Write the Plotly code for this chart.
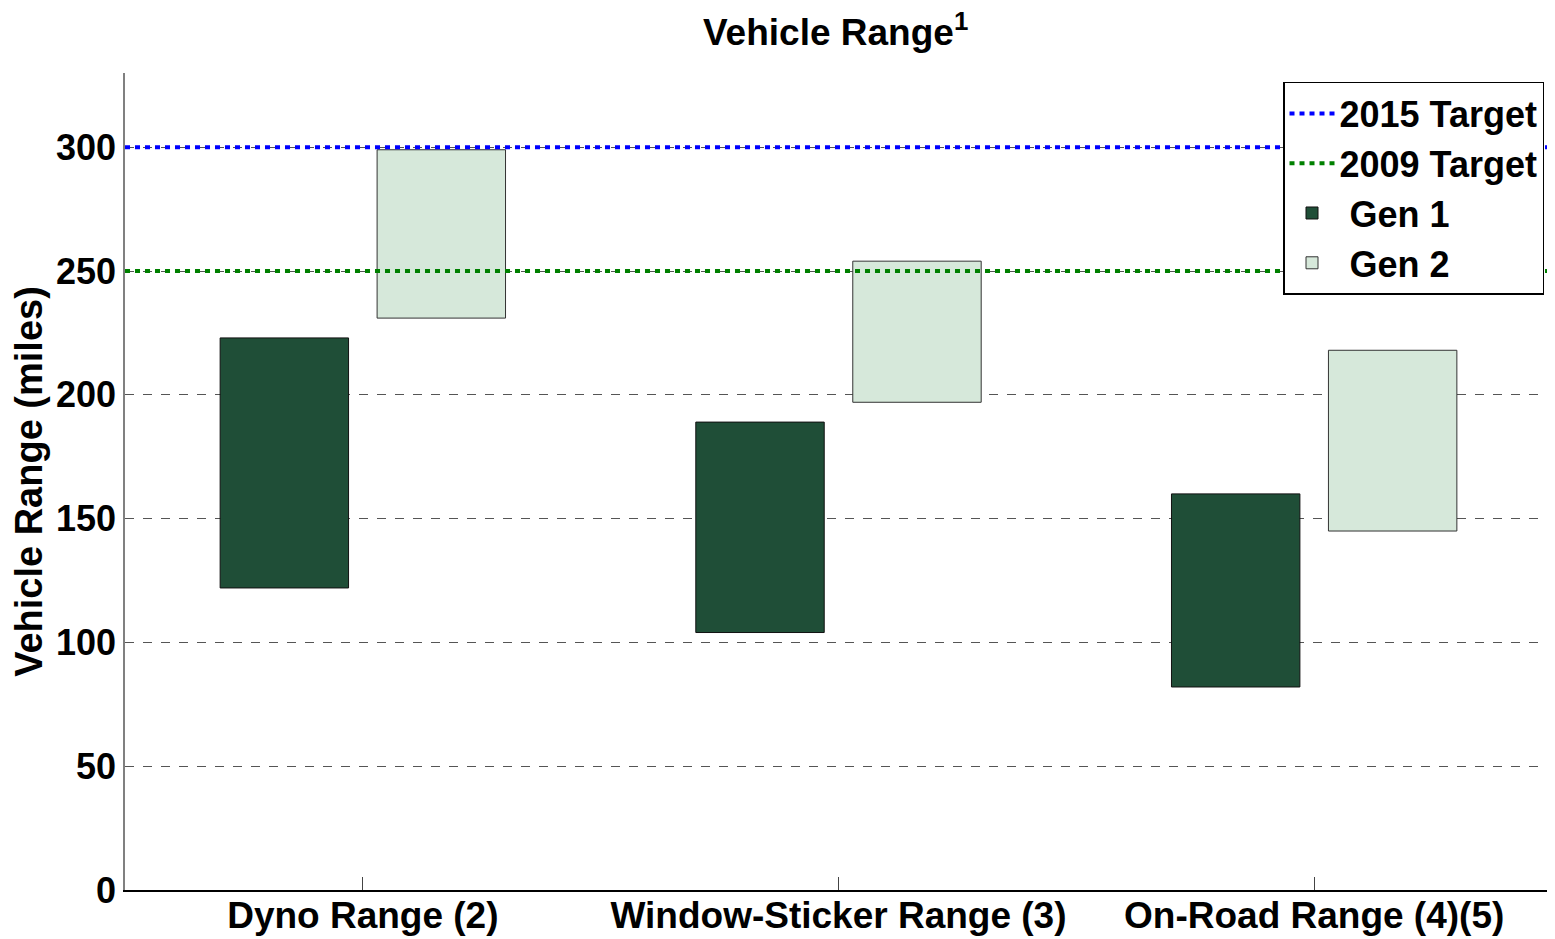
import plotly.graph_objects as go

categories = ["Dyno Range (2)", "Window-Sticker Range (3)", "On-Road Range (4)(5)"]
gen1_low = [122, 104, 82]
gen1_high = [223, 189, 160]
gen2_low = [231, 197, 145]
gen2_high = [299, 254, 218]
target_2015 = 300
target_2009 = 250

xpos = list(range(len(categories)))
font = "Liberation Sans, Arial, sans-serif"

fig = go.Figure()

fig.add_trace(go.Scatter(
    x=[-0.5, 2.5], y=[target_2015, target_2015], mode="lines", name="<b>2015 Target</b>",
    line=dict(color="#0000ff", width=4, dash="5px,5px")))
fig.add_trace(go.Scatter(
    x=[-0.5, 2.5], y=[target_2009, target_2009], mode="lines", name="<b>2009 Target</b>",
    line=dict(color="#008000", width=4, dash="5px,5px")))

fig.add_trace(go.Bar(
    x=xpos, y=[h - l for l, h in zip(gen1_low, gen1_high)], base=gen1_low,
    name="<b> Gen 1</b>", width=0.27, offset=-0.3,
    marker=dict(color="#1f4e37", line=dict(color="#111111", width=1))))
fig.add_trace(go.Bar(
    x=xpos, y=[h - l for l, h in zip(gen2_low, gen2_high)], base=gen2_low,
    name="<b> Gen 2</b>", width=0.27, offset=0.03,
    marker=dict(color="#d6e8da", line=dict(color="#333333", width=1))))

fig.update_layout(
    width=1547, height=931,
    paper_bgcolor="white", plot_bgcolor="white",
    margin=dict(l=117, r=3, t=65, b=49),
    barmode="overlay",
    title=dict(text="<b>Vehicle Range<sup>1</sup></b>", x=0.535, xanchor="center",
               y=0.974, yanchor="middle",
               font=dict(family=font, size=37, color="black")),
    font=dict(family=font, color="black"),
    legend=dict(x=0.9944, y=0.989, xanchor="right", yanchor="top",
                bordercolor="black", borderwidth=1.5, bgcolor="white",
                font=dict(family=font, size=36, color="black"),
                itemwidth=45, tracegroupgap=0),
    showlegend=True,
)

fig.update_xaxes(
    range=[-0.5, 2.5], tickmode="array", tickvals=xpos,
    ticktext=["<b>%s</b>" % c for c in categories],
    tickfont=dict(family=font, size=37, color="black"),
    ticks="inside", ticklen=13, tickcolor="#444444", ticklabelstandoff=-8,
    showline=True, linecolor="black", linewidth=1.5,
    showgrid=False, zeroline=False, automargin=False)

fig.update_yaxes(
    range=[0, 330], tickmode="array", tickvals=[0, 50, 100, 150, 200, 250, 300],
    ticktext=["<b>%d</b>" % v for v in [0, 50, 100, 150, 200, 250, 300]],
    tickfont=dict(family=font, size=36, color="black"),
    title=dict(text="<b>Vehicle Range (miles)</b>", standoff=12,
               font=dict(family=font, size=38, color="black")),
    showline=True, linecolor="#808080", linewidth=1.5,
    showgrid=True, gridcolor="#555555", griddash="dash", gridwidth=1,
    zeroline=False, ticks="", automargin=False)

fig.write_html("out.html")
